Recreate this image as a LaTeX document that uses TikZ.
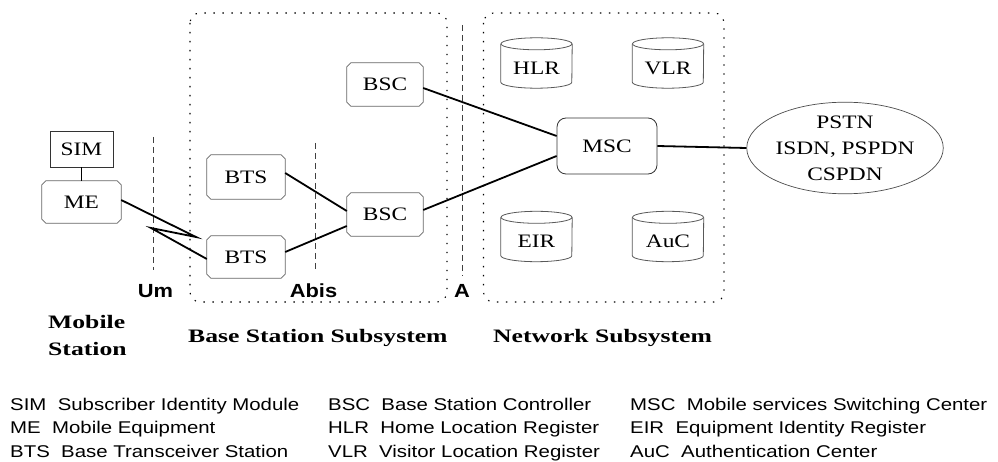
\documentclass[tikz,border=0pt]{standalone}
\usepackage{fontspec}
\setmainfont{Liberation Serif}
\newfontfamily\boxfont[FakeStretch=1.23]{Liberation Serif}
\newfontfamily\secfont[FakeStretch=1.35]{Liberation Serif}
\newfontfamily\legfont[FakeStretch=1.2]{Liberation Sans}
\newfontfamily\ifcfont[FakeStretch=1.15]{Liberation Sans}
\usetikzlibrary{shapes.geometric}
\tikzset{
  box/.style={rectangle, inner sep=0pt, font=\boxfont\fontsize{19}{22}\selectfont},
  boxline/.style={draw=black!60, line width=0.8pt},
  simbox/.style={rectangle, draw=black!80, line width=0.8pt, inner sep=0pt, font=\boxfont\fontsize{19}{22}\selectfont},
  mscbox/.style={rectangle, rounded corners=9pt, draw=black!80, line width=0.8pt, inner sep=0pt, font=\boxfont\fontsize{19}{22}\selectfont},
  netell/.style={ellipse, draw=black!70, line width=0.7pt, inner sep=0pt, minimum width=194pt, minimum height=86pt,
    align=center, font=\boxfont\fontsize{19}{26}\selectfont},
  cyl/.style={rectangle, inner sep=0pt, minimum width=71pt, minimum height=50pt},
  cyltext/.style={inner sep=0pt, font=\boxfont\fontsize{19}{22}\selectfont},
  cylline/.style={draw=black!65, line width=0.8pt},
  link/.style={line width=1.8pt, black},
  area/.style={line width=1.1pt, dash pattern=on 1.4pt off 7.6pt, rounded corners=10pt},
  iface/.style={line width=1pt, black!75, dash pattern=on 6pt off 4pt},
  ifclabel/.style={inner sep=0pt, font=\ifcfont\bfseries\fontsize{19}{22}\selectfont},
  sec/.style={inner sep=0pt, font=\secfont\bfseries\fontsize{19}{22}\selectfont},
  leg/.style={inner sep=0pt, font=\legfont\fontsize{17}{20}\selectfont},
}
% chamfered box: name, x, y, width, height, text
\newcommand\cbox[6]{%
  \node[box, minimum width=#4pt, minimum height=#5pt] (#1) at (#2,#3) {#6};
  \draw[boxline] ([xshift=4pt]#1.north west) -- ([xshift=-4pt]#1.north east)
     -- ([yshift=-4pt]#1.north east) -- ([yshift=4pt]#1.south east)
     -- ([xshift=-4pt]#1.south east) -- ([xshift=4pt]#1.south west)
     -- ([yshift=4pt]#1.south west) -- ([yshift=-4pt]#1.north west) -- cycle;
}
\newcommand\dbcyl[4]{%
  \node[cyl] (#1) at (#2,#3) {};
  \draw[cylline] ([yshift=-6pt]#1.north west) -- ([yshift=6pt]#1.south west)
     arc[start angle=180,end angle=360,x radius=35.5pt,y radius=6pt] -- ([yshift=-6pt]#1.north east);
  \draw[cylline] ([yshift=-6pt]#1.north) ellipse[x radius=35.5pt,y radius=6pt];
  \node[cyltext] (#1-t) at ([yshift=-5pt]#1.center) {#4};
}
\begin{document}
\begin{tikzpicture}[x=1pt,y=-1pt]
\useasboundingbox (0,0) rectangle (998,462);
\fill[white] (0,0) rectangle (998,462);

% areas
\draw[area] (190,13) rectangle (447,302);
\draw[area] (483.5,13) rectangle (724,302);

% interfaces
\draw[iface] (153,137) -- (153,270);
\draw[iface] (315,143) -- (315,270);
\draw[iface] (462.5,25) -- (462.5,276);
\node[ifclabel, anchor=base] (um) at (155.5,297) {Um};
\node[ifclabel, anchor=base] (abis) at (313.5,297) {Abis};
\node[ifclabel, anchor=base] (aif) at (462,297) {A};

% mobile station
\node[simbox, minimum width=63pt, minimum height=36pt] (sim) at (81.5,149) {SIM};
\cbox{me}{81.5}{202}{79}{42}{ME}

% BSS
\cbox{bts1}{246}{177}{78}{44}{BTS}
\cbox{bts2}{246}{257}{78}{42}{BTS}
\cbox{bsc1}{385}{84.5}{76}{43}{BSC}
\cbox{bsc2}{385}{214.5}{76}{43}{BSC}

% NSS
\node[mscbox, minimum width=100pt, minimum height=56pt] (msc) at (607,146) {MSC};
\dbcyl{hlr}{536.5}{63}{HLR}
\dbcyl{vlr}{668}{63}{VLR}
\dbcyl{eir}{536.5}{236.5}{EIR}
\dbcyl{auc}{668}{236.5}{AuC}

\node[netell] (pstn) at (845,148) {PSTN\\ISDN, PSPDN\\CSPDN};

% connectors
\draw[link] (sim.south) -- (me.north);
\coordinate (z1) at (196,237);
\coordinate (z2) at (151,228);
\draw[link, line join=miter] ([yshift=2pt]me.east) -- (z1) -- (z2) -- ([yshift=-2pt]bts2.west);
\draw[link] ([yshift=4pt]bts1.east) -- ([yshift=3.5pt]bsc2.west);
\draw[link] ([yshift=5pt]bts2.east) -- ([yshift=-11.5pt]bsc2.west);
\draw[link] ([yshift=-3.5pt]bsc1.east) -- ([yshift=10pt]msc.west);
\draw[link] ([yshift=4.5pt]bsc2.east) -- ([yshift=-10pt]msc.west);
\draw[link] (msc.east) -- (pstn.west);

% subsystem titles
\node[sec, anchor=base west] (ms1) at (48,328) {Mobile};
\node[sec, anchor=base west] (ms2) at (48,355) {Station};
\node[sec, anchor=base west] (bss) at (188,342) {Base Station Subsystem};
\node[sec, anchor=base west] (nss) at (493,342) {Network Subsystem};

% legend
\node[leg, anchor=base west] (g1) at (10,410) {SIM\ \ Subscriber Identity Module};
\node[leg, anchor=base west] (g2) at (10,433.5) {ME\ \ Mobile Equipment};
\node[leg, anchor=base west] (g3) at (10,457) {BTS\ \ Base Transceiver Station};
\node[leg, anchor=base west] (g4) at (328,410) {BSC\ \ Base Station Controller};
\node[leg, anchor=base west] (g5) at (328,433.5) {HLR\ \ Home Location Register};
\node[leg, anchor=base west] (g6) at (328,457) {VLR\ \ Visitor Location Register};
\node[leg, anchor=base west] (g7) at (630,410) {MSC\ \ Mobile services Switching Center};
\node[leg, anchor=base west] (g8) at (630,433.5) {EIR\ \ Equipment Identity Register};
\node[leg, anchor=base west] (g9) at (630,457) {AuC\ \ Authentication Center};
\end{tikzpicture}
\end{document}
